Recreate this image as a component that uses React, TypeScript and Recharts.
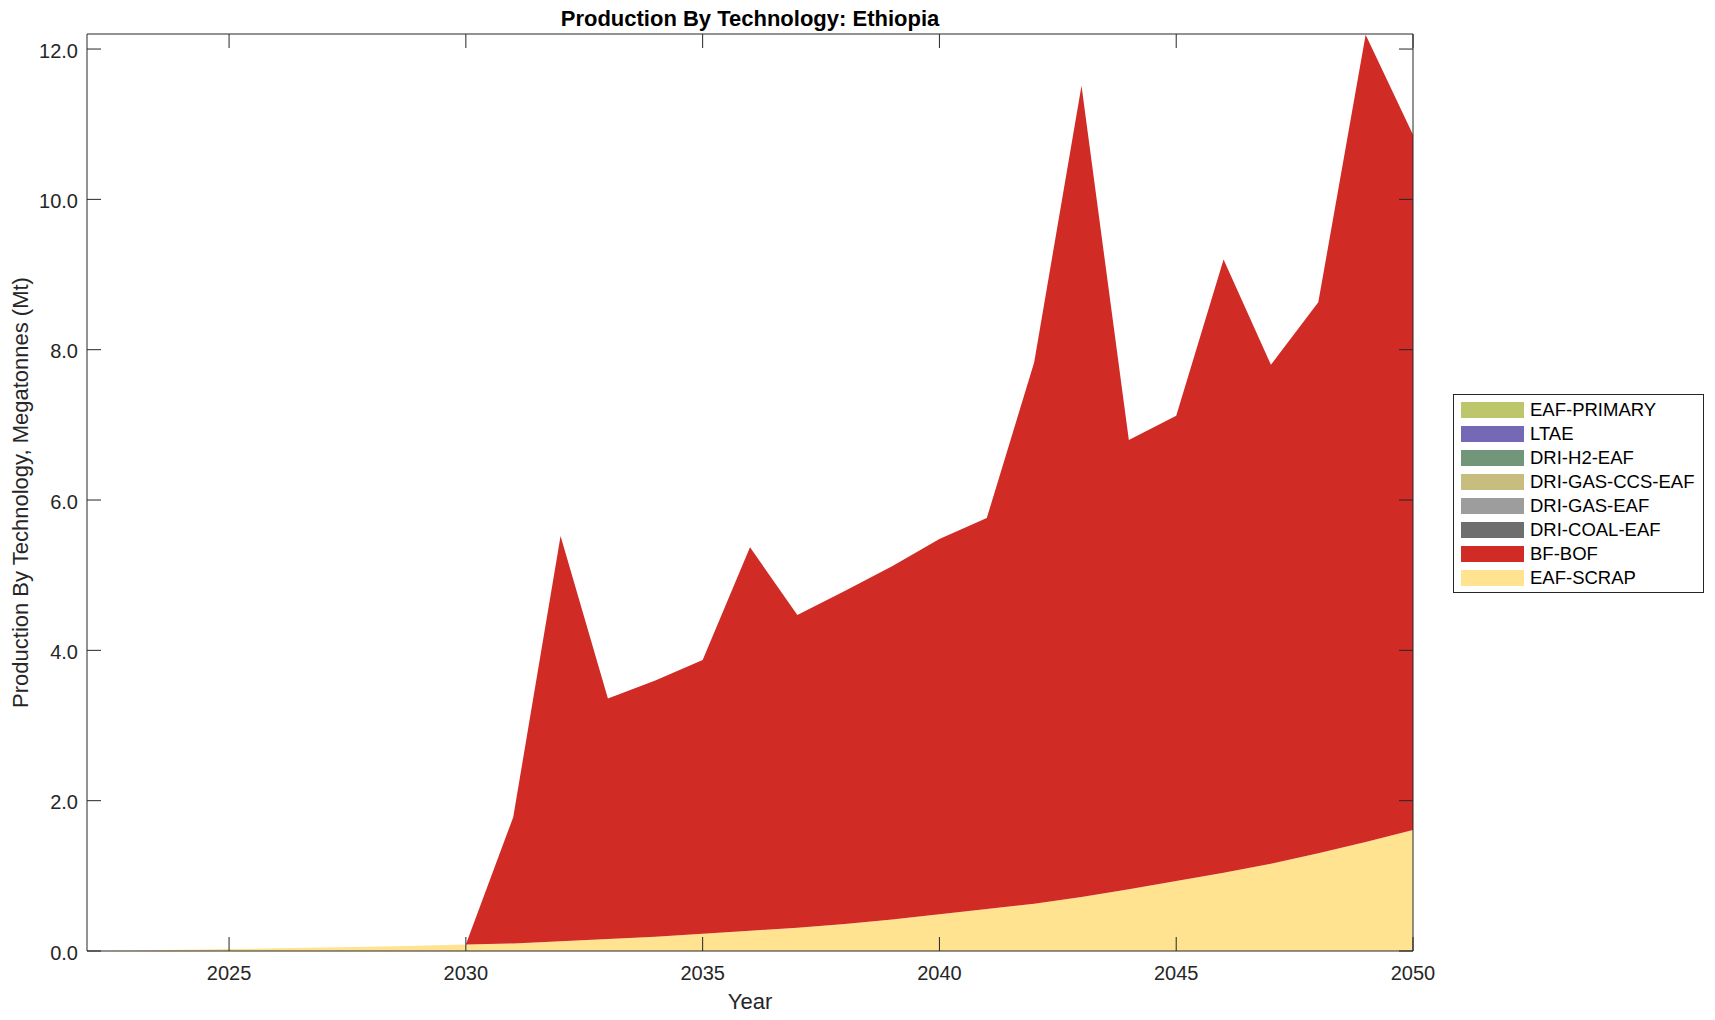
import React from "react";
import { Area, AreaChart, ReferenceLine, XAxis, YAxis } from "recharts";

// years 2022 → 2050
const years = [
  2022, 2023, 2024, 2025, 2026, 2027, 2028, 2029, 2030, 2031, 2032, 2033, 2034, 2035, 2036,
  2037, 2038, 2039, 2040, 2041, 2042, 2043, 2044, 2045, 2046, 2047, 2048, 2049, 2050,
];

// Mt per technology
const eafScrap = [
  0.0, 0.008, 0.016, 0.025, 0.035, 0.045, 0.057, 0.07, 0.085, 0.1, 0.13, 0.16, 0.19, 0.23, 0.27,
  0.31, 0.36, 0.42, 0.49, 0.56, 0.63, 0.72, 0.82, 0.93, 1.04, 1.16, 1.3, 1.45, 1.61,
];
const bfBof = [
  0, 0, 0, 0, 0, 0, 0, 0, 0, 1.68, 5.39, 3.2, 3.41, 3.64, 5.1,
  4.16, 4.43, 4.7, 4.99, 5.2, 7.2, 10.79, 5.98, 6.19, 8.16, 6.64, 7.33, 10.74, 9.25,
];
const zeros = years.map(() => 0);
const driCoalEaf = zeros;
const driGasEaf = zeros;
const driGasCcsEaf = zeros;
const driH2Eaf = zeros;
const ltae = zeros;
const eafPrimary = zeros;

// stacking order, bottom → top
const seriesNames = [
  "EAF-SCRAP",
  "BF-BOF",
  "DRI-COAL-EAF",
  "DRI-GAS-EAF",
  "DRI-GAS-CCS-EAF",
  "DRI-H2-EAF",
  "LTAE",
  "EAF-PRIMARY",
];
const seriesValues = [eafScrap, bfBof, driCoalEaf, driGasEaf, driGasCcsEaf, driH2Eaf, ltae, eafPrimary];
const seriesColors = [
  "#FFE391",
  "#D12B26",
  "#6E6E6E",
  "#9D9D9D",
  "#C6BD7E",
  "#72967A",
  "#7569B5",
  "#BDC66A",
];

const xTicks = [2025, 2030, 2035, 2040, 2045, 2050];
const yTicks = [0, 2, 4, 6, 8, 10, 12];
const X_MIN = 2022;
const X_MAX = 2050;
const Y_MAX = 12.2;

const data = years.map((year, i) => {
  const row: Record<string, number> = { year };
  seriesNames.forEach((name, s) => {
    row[name] = seriesValues[s][i];
  });
  return row;
});

const FONT = '"Liberation Sans", Arial, Helvetica, sans-serif';
const INK = "#262626";

const W = 1715;
const H = 1020;
const PLOT_LEFT = 87;
const PLOT_RIGHT = 1413;
const PLOT_TOP = 34;
const PLOT_BOTTOM = 951;

// MATLAB-style inward ticks on all four sides, drawn on top of the areas
const TICK_LEN = 14;
const X_GAP = 15;
const Y_GAP = 9;

function VerticalTicks(props: any) {
  const { x1, y1, y2 } = props;
  const top = Math.min(y1, y2);
  const bottom = Math.max(y1, y2);
  return (
    <g>
      <line x1={x1} x2={x1} y1={top} y2={top + TICK_LEN} stroke={INK} strokeWidth={1} />
      <line x1={x1} x2={x1} y1={bottom} y2={bottom - TICK_LEN} stroke={INK} strokeWidth={1} />
    </g>
  );
}

function HorizontalTicks(props: any) {
  const { x1, x2, y1 } = props;
  const left = Math.min(x1, x2);
  const right = Math.max(x1, x2);
  return (
    <g>
      <line x1={left} x2={left + TICK_LEN} y1={y1} y2={y1} stroke={INK} strokeWidth={1} />
      <line x1={right} x2={right - TICK_LEN} y1={y1} y2={y1} stroke={INK} strokeWidth={1} />
    </g>
  );
}

function BottomLabel(props: any) {
  const { x, y, payload } = props;
  return (
    <text x={x} y={y} dy="0.72em" textAnchor="middle" fill={INK} fontSize={20} fontFamily={FONT}>
      {payload.value}
    </text>
  );
}

function LeftLabel(props: any) {
  const { x, y, payload } = props;
  return (
    <text x={x} y={y} dy="0.44em" textAnchor="end" fill={INK} fontSize={20} fontFamily={FONT}>
      {Number(payload.value).toFixed(1)}
    </text>
  );
}

function ChartLegend() {
  const rows = seriesNames.map((name, i) => ({ name, color: seriesColors[i] })).reverse();
  return (
    <div
      style={{
        position: "absolute",
        left: 1453,
        top: 394,
        width: 249,
        height: 192,
        border: `1px solid ${INK}`,
        background: "#fff",
        paddingTop: 3,
        paddingBottom: 2,
        boxSizing: "content-box",
        fontFamily: FONT,
        fontSize: 18.5,
        color: "#000",
      }}
    >
      {rows.map((r) => (
        <div key={r.name} style={{ display: "flex", alignItems: "center", height: 24 }}>
          <div style={{ width: 63, height: 16, background: r.color, marginLeft: 7, marginRight: 6 }} />
          <span>{r.name}</span>
        </div>
      ))}
    </div>
  );
}

export default function App() {
  return (
    <div
      style={{
        position: "absolute",
        left: 0,
        top: 0,
        width: W,
        height: H,
        background: "#fff",
        fontFamily: FONT,
      }}
    >
      <div
        style={{
          position: "absolute",
          left: PLOT_LEFT,
          width: PLOT_RIGHT - PLOT_LEFT,
          top: 8,
          lineHeight: "22px",
          textAlign: "center",
          fontWeight: 700,
          fontSize: 22,
          color: "#000",
        }}
      >
        Production By Technology: Ethiopia
      </div>

      <AreaChart
        width={W}
        height={H}
        data={data}
        margin={{ top: PLOT_TOP, right: W - PLOT_RIGHT, bottom: 0, left: 0 }}
      >
        {seriesNames.map((name, i) => (
          <Area
            key={name}
            type="linear"
            dataKey={name}
            stackId="prod"
            stroke="none"
            fill={seriesColors[i]}
            fillOpacity={1}
            isAnimationActive={false}
            activeDot={false}
          />
        ))}

        <XAxis
          dataKey="year"
          type="number"
          domain={[X_MIN, X_MAX]}
          ticks={xTicks}
          height={H - PLOT_BOTTOM}
          tick={<BottomLabel />}
          tickLine={false}
          tickSize={0}
          tickMargin={X_GAP}
          stroke={INK}
          allowDecimals={false}
          label={{
            value: "Year",
            position: "insideBottom",
            offset: 11,
            style: { fill: INK, fontSize: 22, fontFamily: FONT },
          }}
        />
        <YAxis
          type="number"
          domain={[0, Y_MAX]}
          ticks={yTicks}
          width={PLOT_LEFT}
          tick={<LeftLabel />}
          tickLine={false}
          tickSize={0}
          tickMargin={Y_GAP}
          stroke={INK}
          label={{
            value: "Production By Technology, Megatonnes (Mt)",
            angle: -90,
            position: "insideLeft",
            offset: 20,
            style: { fill: INK, fontSize: 22, fontFamily: FONT, textAnchor: "middle" },
          }}
        />

        {/* box: top and right edges */}
        <ReferenceLine y={Y_MAX} stroke={INK} strokeWidth={1} />
        <ReferenceLine x={X_MAX} stroke={INK} strokeWidth={1} />

        {xTicks.map((t) => (
          <ReferenceLine key={`xt-${t}`} x={t} shape={<VerticalTicks />} />
        ))}
        {yTicks.map((t) => (
          <ReferenceLine key={`yt-${t}`} y={t} shape={<HorizontalTicks />} />
        ))}
      </AreaChart>

      <ChartLegend />
    </div>
  );
}
